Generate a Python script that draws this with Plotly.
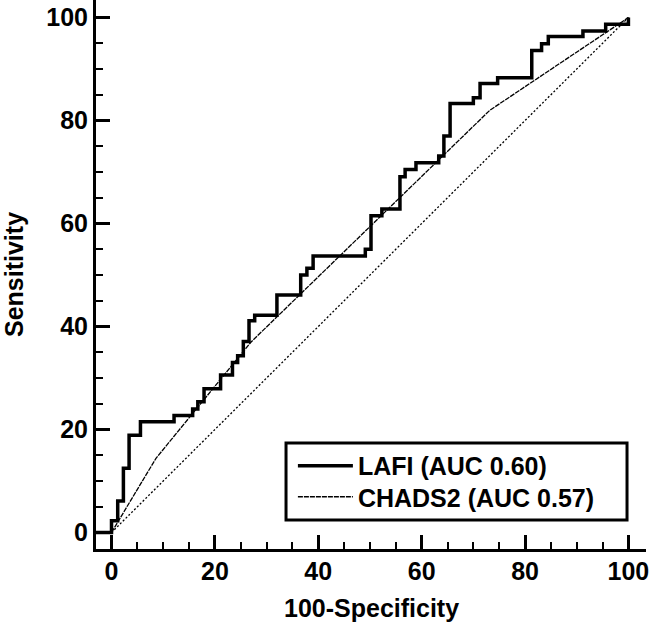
import plotly.graph_objects as go

# LAFI ROC step curve corners (100-Specificity, Sensitivity), drawn with hv steps
lafi_x = [-3, 0, 1.2, 2.3, 3.4, 5.6, 12.1, 15.7, 16.7, 17.9, 21.1, 23.4, 24.4, 25.5,
          26.6, 27.7, 32.0, 36.6, 37.8, 39.0, 49.1, 50.2, 52.3, 55.8, 56.8, 58.9,
          63.3, 64.3, 65.5, 70.0, 71.3, 74.7, 81.3, 83.2, 84.5, 91.2, 95.6, 100]
lafi_y = [0, 2.3, 6.1, 12.5, 18.9, 21.5, 22.7, 24.0, 25.4, 27.9, 30.6, 33.0, 34.3, 37.1,
          41.1, 42.2, 46.1, 50.0, 51.3, 53.7, 55.0, 61.5, 62.8, 69.1, 70.5, 71.8,
          73.1, 77.0, 83.3, 84.4, 87.2, 88.3, 93.6, 94.9, 96.3, 97.4, 98.7, 100]

# CHADS2 ROC vertices
chads_x = [0, 8.6, 27.0, 73.2, 100]
chads_y = [0, 14.4, 37.0, 82.0, 100]

# Reference diagonal
diag_x = [0, 100]
diag_y = [0, 100]

tick_vals = [0, 20, 40, 60, 80, 100]
tick_text = ["0", "20", "40", "60", "80", "100"]

x_title = "100-Specificity"
y_title = "Sensitivity"
lafi_name = "LAFI (AUC 0.60)"
chads_name = "CHADS2 (AUC 0.57)"

FONT = "Liberation Sans, Arial, sans-serif"
FS = 25
bold = dict(family=FONT, size=FS, color="black", weight="bold")

fig = go.Figure()
fig.add_trace(go.Scatter(x=diag_x, y=diag_y, mode="lines", showlegend=False,
                         line=dict(color="black", width=1.3, dash="2px,2px")))
fig.add_trace(go.Scatter(x=chads_x, y=chads_y, mode="lines", name=chads_name,
                         legend="legend2",
                         line=dict(color="black", width=1.3, dash="5px,1px")))
fig.add_trace(go.Scatter(x=lafi_x, y=lafi_y, mode="lines", name=lafi_name,
                         legend="legend",
                         line=dict(color="black", width=3.5, shape="hv")))

axis_common = dict(
    showgrid=False, zeroline=False, showline=True, linecolor="black", linewidth=3,
    ticks="inside", ticklen=14, tickwidth=3, tickcolor="black",
    tickvals=tick_vals, ticktext=tick_text, automargin=False,
    tickfont=bold,
    minor=dict(ticks="inside", ticklen=7, tickwidth=2, tickcolor="black", dtick=5),
)

leg_common = dict(xanchor="left", yanchor="middle", borderwidth=0,
                  bgcolor="rgba(0,0,0,0)", font=bold, itemwidth=55)

fig.update_layout(
    width=650, height=624,
    margin=dict(l=96, r=4, t=0, b=75),
    paper_bgcolor="white", plot_bgcolor="white",
    xaxis=dict(range=[-3, 103.4], ticklabelstandoff=-2, **axis_common),
    yaxis=dict(range=[-3.2, 103.4], ticklabelstandoff=0, **axis_common),
    legend=dict(x=0.358, y=0.1512, **leg_common),
    legend2=dict(x=0.358, y=0.0947, **leg_common),
    shapes=[dict(type="rect", xref="paper", yref="paper",
                 x0=0.3455, x1=0.9655, y0=0.0528, y1=0.1931,
                 line=dict(color="black", width=3), fillcolor="white", layer="above")],
    annotations=[
        dict(text=x_title, xref="paper", yref="paper", x=0.5, y=-0.107,
             xanchor="center", yanchor="middle", showarrow=False, font=bold),
        dict(text=y_title, xref="paper", yref="paper", x=-0.150, y=0.5,
             xanchor="center", yanchor="middle", textangle=-90, showarrow=False, font=bold),
    ],
)

fig.write_html("out.html", config={"displayModeBar": False},
               post_script="document.body.style.margin='0px';")
